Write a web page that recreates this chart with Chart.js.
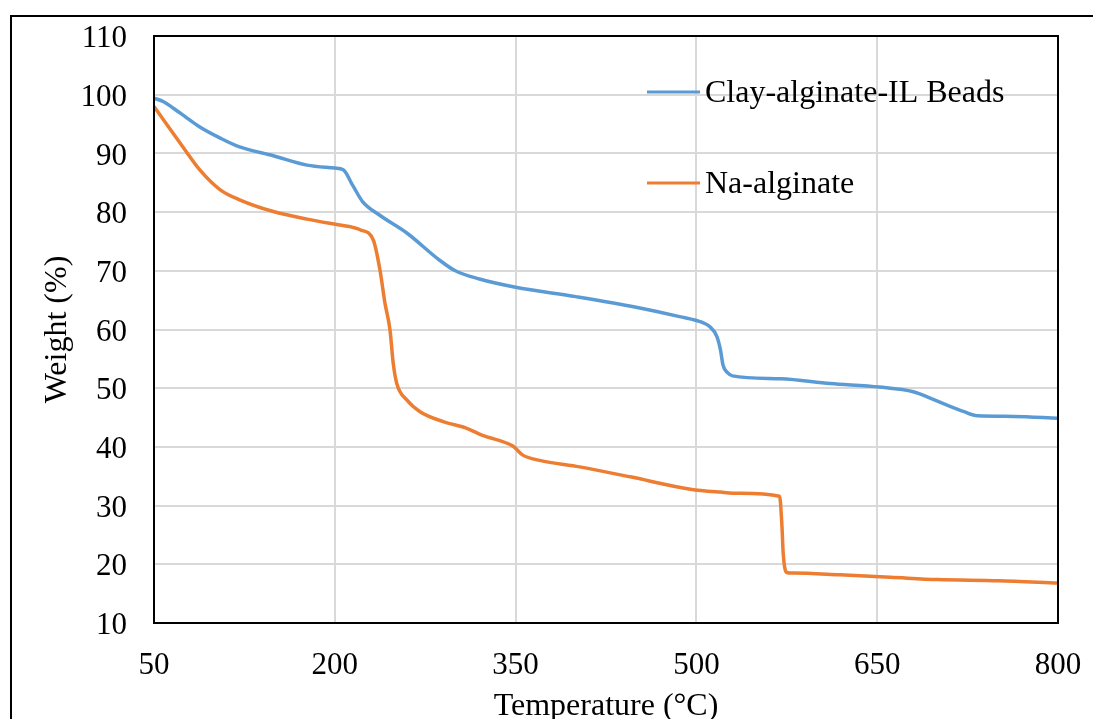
<!DOCTYPE html>
<html>
<head>
<meta charset="utf-8">
<script src="https://cdn.jsdelivr.net/npm/chart.js@4.4.0/dist/chart.umd.min.js"></script>
<style>
    html, body { margin: 0; padding: 0; background: #fff; overflow: hidden; }
    #frame {
        position: absolute; left: 10px; top: 15px;
        width: 1200px; height: 800px;
        border: 2px solid #000; box-sizing: border-box;
    }
    #wrap { position: absolute; left: 0; top: 0; width: 1093px; height: 726px; }
</style>
</head>
<body>
<div id="frame"></div>
<div id="wrap"><canvas id="tgaChart"></canvas></div>
<script>
// TGA curves
const beadsTemp   = [50, 58, 66, 75, 88, 105, 121, 149, 177, 200, 207, 215, 223, 237, 260, 287, 300, 320, 350, 400, 450, 486, 505, 511, 517, 520, 522, 526, 530, 570, 611, 652, 680, 694, 708, 722, 733, 763, 800];
const beadsWeight = [99.4, 98.8, 97.7, 96.4, 94.5, 92.6, 91.1, 89.6, 88.0, 87.5, 87.2, 84.5, 81.8, 79.5, 76.4, 71.8, 70.0, 68.6, 67.2, 65.6, 63.8, 62.2, 61.2, 60.5, 58.8, 56.5, 54.0, 52.6, 52.1, 51.6, 50.8, 50.2, 49.4, 48.3, 47.1, 46.0, 45.3, 45.2, 44.9];

const alginateTemp   = [50, 59, 74, 88, 105, 121, 149, 177, 204, 215, 221, 232, 237.5, 241.6, 245.8, 248.5, 251.4, 259.7, 270.7, 290, 309, 322, 348, 356, 370, 403, 445, 495, 520, 536, 569, 571, 572, 575, 580, 619, 661, 700, 750, 800];
const alginateWeight = [98.0, 95.4, 91.1, 87.2, 83.8, 82.1, 80.1, 78.8, 77.8, 77.4, 77.0, 75.2, 70.1, 64.5, 59.9, 54.2, 50.8, 48.0, 46.0, 44.3, 43.2, 42.0, 40.1, 38.6, 37.7, 36.6, 34.9, 32.8, 32.3, 32.1, 31.6, 26.4, 21.9, 18.6, 18.5, 18.2, 17.8, 17.4, 17.2, 16.8];

const seriesNames = ['Clay-alginate-IL Beads', 'Na-alginate'];
const seriesColors = ['#5B9BD5', '#ED7D31'];

const xTicks = [50, 200, 350, 500, 650, 800];
const yMin = 10, yMax = 110, yStep = 10;

const serif = "'Liberation Serif', 'Times New Roman', serif";

function toPoints(xs, ys) {
    return xs.map((x, i) => ({ x: x, y: ys[i] }));
}

// black box around the plot area plus the in-plot legend
const plotDecor = {
    id: 'plotDecor',
    afterDatasetsDraw(chart) {
        const { ctx, chartArea: a } = chart;
        ctx.save();
        ctx.strokeStyle = '#000';
        ctx.lineWidth = 2;
        ctx.strokeRect(a.left, a.top, a.right - a.left, a.bottom - a.top);

        const legendX = 647, lineLen = 53;
        const legendY = [92, 183];
        ctx.font = '32px ' + serif;
        ctx.textBaseline = 'middle';
        ctx.fillStyle = '#000';
        seriesNames.forEach((name, i) => {
            ctx.strokeStyle = seriesColors[i];
            ctx.lineWidth = 3;
            ctx.beginPath();
            ctx.moveTo(legendX, legendY[i]);
            ctx.lineTo(legendX + lineLen, legendY[i]);
            ctx.stroke();
            ctx.fillText(name, legendX + lineLen + 5, legendY[i] + 2);
        });
        ctx.restore();
    }
};

new Chart(document.getElementById('tgaChart'), {
    type: 'line',
    data: {
        datasets: [
            {
                label: seriesNames[0],
                data: toPoints(beadsTemp, beadsWeight),
                borderColor: seriesColors[0],
                borderWidth: 3.5,
                pointRadius: 0,
                cubicInterpolationMode: 'monotone'
            },
            {
                label: seriesNames[1],
                data: toPoints(alginateTemp, alginateWeight),
                borderColor: seriesColors[1],
                borderWidth: 3.5,
                pointRadius: 0,
                cubicInterpolationMode: 'monotone'
            }
        ]
    },
    options: {
        responsive: true,
        maintainAspectRatio: false,
        animation: false,
        layout: { padding: { top: 36, right: 35, left: 0, bottom: 0 } },
        plugins: {
            legend: { display: false },
            tooltip: { enabled: false }
        },
        scales: {
            x: {
                type: 'linear',
                min: xTicks[0],
                max: xTicks[xTicks.length - 1],
                afterBuildTicks: (scale) => { scale.ticks = xTicks.map(v => ({ value: v })); },
                afterFit: (scale) => {
                    scale.height = 103;
                    scale.paddingLeft = 0;
                    scale.paddingRight = 0;
                },
                grid: { color: '#d9d9d9', lineWidth: 2, drawTicks: false },
                border: { display: false },
                ticks: { color: '#000', padding: 24, maxRotation: 0, font: { family: serif, size: 31 } },
                title: {
                    display: true,
                    text: 'Temperature (°C)',
                    color: '#000',
                    padding: { top: 4, bottom: 0 },
                    font: { family: serif, size: 32 }
                }
            },
            y: {
                min: yMin,
                max: yMax,
                afterFit: (scale) => {
                    scale.width = 154;
                    scale.paddingTop = 0;
                    scale.paddingBottom = 0;
                },
                grid: { color: '#d9d9d9', lineWidth: 2, drawTicks: false },
                border: { display: false },
                ticks: { stepSize: yStep, color: '#000', padding: 27, labelOffset: 3, font: { family: serif, size: 31 } },
                title: {
                    display: true,
                    text: 'Weight (%)',
                    color: '#000',
                    padding: { top: 38, bottom: 0 },
                    font: { family: serif, size: 32 }
                }
            }
        }
    },
    plugins: [plotDecor]
});
</script>
</body>
</html>
